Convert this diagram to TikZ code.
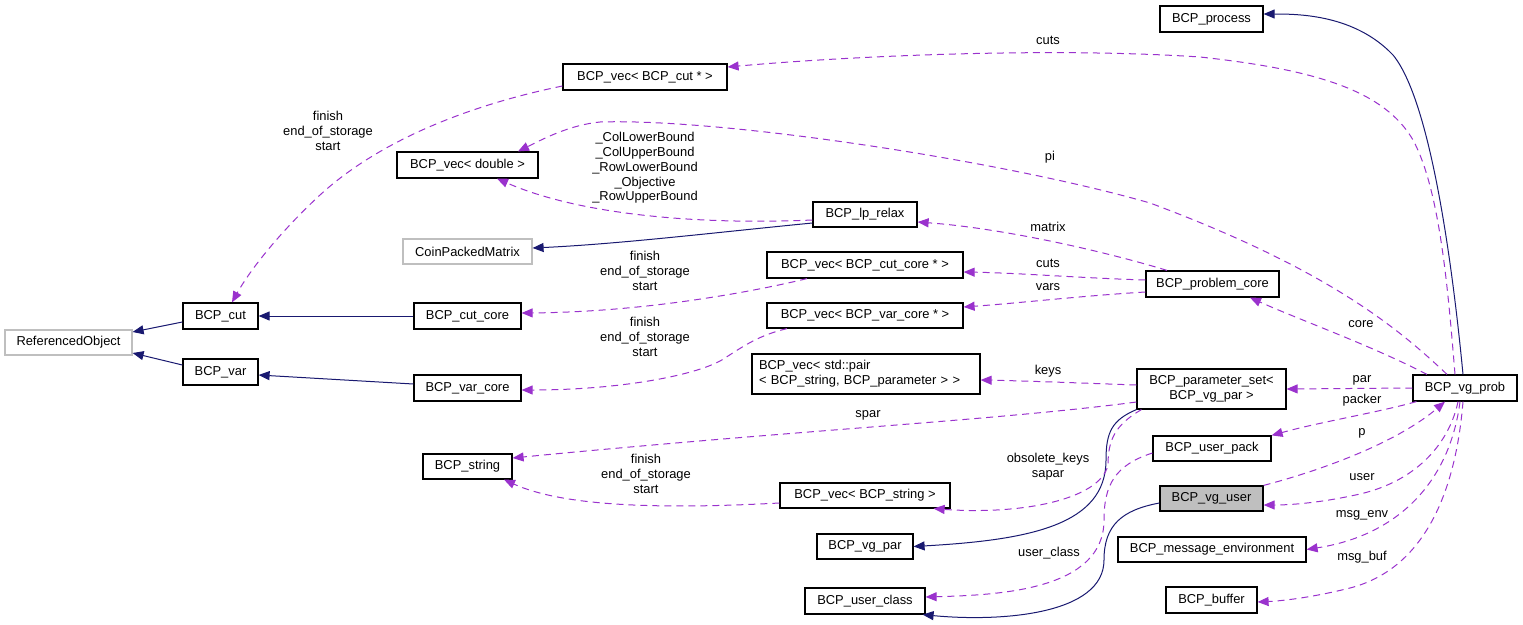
\documentclass[tikz,border=0pt]{standalone}
\usepackage{fontspec}
\setmainfont{Liberation Sans}
\usetikzlibrary{arrows.meta}
\definecolor{edgeblue}{HTML}{191970}
\definecolor{edgepurple}{HTML}{9A32CD}
\definecolor{boxgray}{HTML}{BFBFBF}
\newcommand\dfont{\fontsize{12.9}{14.7}\selectfont}
\begin{document}
\begin{tikzpicture}[x=1pt,y=-1pt,
  box/.style={draw=black, line width=1.2pt, minimum height=26pt, inner sep=0pt, font=\dfont, fill=white},
  gbox/.style={box, draw=boxgray},
  lbl/.style={font=\dfont, inner sep=0pt, align=center},
  inh/.style={draw=edgeblue, line width=1pt, -{Triangle[length=11pt,width=9pt]}},
  dep/.style={draw=edgepurple, line width=1pt, dash pattern=on 7pt off 5pt, -{Triangle[length=11pt,width=9pt]}}]
\useasboundingbox (0,0) rectangle (1523,624);

% nodes
\node[gbox, minimum width=127pt, minimum height=25pt] (RO) at (68.5,342.5) {ReferencedObject};
\node[box, minimum width=75pt] (cut) at (220.5,316) {BCP\_cut};
\node[box, minimum width=75pt] (var) at (220.5,372) {BCP\_var};
\node[box, minimum width=141pt] (vecdouble) at (467.5,165) {BCP\_vec< double >};
\node[gbox, minimum width=129pt, minimum height=25pt] (coin) at (467.5,251.5) {CoinPackedMatrix};
\node[box, minimum width=107pt] (cutcore) at (467.5,316) {BCP\_cut\_core};
\node[box, minimum width=107pt] (varcore) at (467.5,388) {BCP\_var\_core};
\node[box, minimum width=164pt] (veccut) at (645,77) {BCP\_vec< BCP\_cut * >};
\node[box, minimum width=104pt, minimum height=25pt] (lprelax) at (865,214.5) {BCP\_lp\_relax};
\node[box, minimum width=196pt] (veccutcore) at (865,265) {BCP\_vec< BCP\_cut\_core * >};
\node[box, minimum width=196pt, minimum height=25pt] (vecvarcore) at (865,315.5) {BCP\_vec< BCP\_var\_core * >};
\node[box, minimum width=228pt, minimum height=40pt, align=left, text width=214pt] (vecpair) at (866,374) {BCP\_vec< std::pair\\< BCP\_string, BCP\_parameter > >};
\node[box, minimum width=89pt, minimum height=25pt] (string) at (467.5,466.5) {BCP\_string};
\node[box, minimum width=170pt, minimum height=25pt] (vecstring) at (865,495.5) {BCP\_vec< BCP\_string >};
\node[box, minimum width=96pt, minimum height=25pt] (vgpar) at (865,546.5) {BCP\_vg\_par};
\node[box, minimum width=120pt] (userclass) at (865,601) {BCP\_user\_class};
\node[box, minimum width=133pt] (probcore) at (1212.5,284) {BCP\_problem\_core};
\node[box, minimum width=149pt, minimum height=40pt, align=center] (paramset) at (1211.5,389) {BCP\_parameter\_set<\\BCP\_vg\_par >};
\node[box, minimum width=104pt] (vgprob) at (1465,388) {BCP\_vg\_prob};
\node[box, minimum width=118pt, minimum height=25pt] (userpack) at (1212,448.5) {BCP\_user\_pack};
\node[box, minimum width=103pt, minimum height=25pt, fill=boxgray] (vguser) at (1211.5,498.5) {BCP\_vg\_user};
\node[box, minimum width=188pt, minimum height=25pt] (msgenv) at (1212,549.5) {BCP\_message\_environment};
\node[box, minimum width=91pt] (buffer) at (1211.5,600) {BCP\_buffer};
\node[box, minimum width=103pt] (process) at (1211.5,19) {BCP\_process};

% solid (inheritance) edges
\draw[inh] ([yshift=-6pt]cut.west) -- ([yshift=10.5pt]RO.east);
\draw[inh] ([yshift=7pt]var.west) -- ([yshift=-10.5pt]RO.east);
\draw[inh] (cutcore.west) -- (cut.east);
\draw[inh] ([yshift=4pt]varcore.west) -- ([yshift=-3pt]var.east);
\draw[inh] ([yshift=-8.5pt]lprelax.west) .. controls (720,232) and (620,244) .. ([yshift=3.5pt]coin.east);
\draw[inh] ([xshift=-2pt]vgprob.north) .. controls (1452,260) and (1430,100) .. (1393,55) .. controls (1355,15) and (1300,14) .. ([yshift=5pt]process.east);
\draw[inh] (paramset.south west) .. controls (1112,420) and (1106,432) .. (1106,460) .. controls (1106,525) and (1030,540) .. (vgpar.east);
\draw[inh] ([yshift=-4.5pt]vguser.west) .. controls (1122,510) and (1104,525) .. (1104,560) .. controls (1104,615) and (1000,622) .. ([xshift=-3pt]userclass.south east);

% dashed (usage) edges
\draw[dep] ([xshift=-10pt]vgprob.north) .. controls (1448,290) and (1440,190) .. (1413,140) .. controls (1385,92) and (1320,70) .. (1200,57) .. controls (1050,47) and (850,56) .. ([yshift=10pt]veccut.east);
\node[lbl] (lcuts1) at (1048,40) {cuts};

\draw[dep] ([yshift=-9pt]veccut.west) .. controls (470,105) and (380,140) .. (320,195) .. controls (280,232) and (250,270) .. ([xshift=11.5pt]cut.north);
\node[lbl] (lfin1) at (328,131) {finish\\end\_of\_storage\\start};

\draw[dep] ([xshift=-18pt]vgprob.north) .. controls (1400,330) and (1330,270) .. (1150,203) .. controls (1000,160) and (720,118) .. (600,122) .. controls (570,125) and (545,138) .. ([xshift=50.5pt]vecdouble.north);
\node[lbl] (lpi) at (1050,157) {pi};

\draw[dep] ([yshift=-5.5pt]lprelax.west) .. controls (700,225) and (580,215) .. ([xshift=29.5pt]vecdouble.south);
\node[lbl] (lbounds) at (645,168) {\_ColLowerBound\\\_ColUpperBound\\\_RowLowerBound\\\_Objective\\\_RowUpperBound};

\draw[dep] ([xshift=-45.5pt]probcore.north) .. controls (1100,250) and (1000,228) .. ([yshift=-7.5pt]lprelax.east);
\node[lbl] (lmatrix) at (1048,227) {matrix};

\draw[dep] ([yshift=4pt]probcore.west) .. controls (1080,278) and (1020,273) .. ([yshift=-7pt]veccutcore.east);
\node[lbl] (lcuts2) at (1048,263) {cuts};

\draw[dep] ([yshift=-8pt]probcore.west) .. controls (1080,296) and (1020,303) .. ([yshift=8.5pt]vecvarcore.east);
\node[lbl] (lvars) at (1048,287) {vars};

\draw[dep] ([xshift=-58pt]veccutcore.south) .. controls (760,290) and (650,312) .. ([yshift=3pt]cutcore.east);
\node[lbl] (lfin2) at (645,271) {finish\\end\_of\_storage\\start};

\draw[dep] ([xshift=-78pt]vecvarcore.south) .. controls (760,335) and (745,345) .. (725,358) .. controls (700,375) and (620,390) .. ([yshift=-2pt]varcore.east);
\node[lbl] (lfin3) at (645,337) {finish\\end\_of\_storage\\start};

\draw[dep] ([xshift=-38pt]vgprob.north) .. controls (1370,345) and (1300,320) .. ([xshift=37.5pt]probcore.south);
\node[lbl] (lcore) at (1361,324) {core};

\draw[dep] ([yshift=4pt]paramset.west) .. controls (1080,383) and (1030,381) .. ([yshift=-6pt]vecpair.east);
\node[lbl] (lkeys) at (1048,371) {keys};

\draw[dep] ([yshift=-13pt]paramset.west) .. controls (1000,420) and (800,430) .. ([yshift=8.5pt]string.east);
\node[lbl] (lspar) at (868,415) {spar};

\draw[dep] ([xshift=5pt]paramset.south west) .. controls (1115,425) and (1108,440) .. (1108,465) .. controls (1100,500) and (1020,515) .. ([xshift=-17pt]vecstring.south east);
\node[lbl] (lobs) at (1048,467) {obsolete\_keys\\sapar};

\draw[dep] ([yshift=-7.5pt]vecstring.west) .. controls (650,510) and (560,505) .. ([xshift=36.5pt]string.south);
\node[lbl] (lfin4) at (646,474) {finish\\end\_of\_storage\\start};

\draw[dep] (vgprob.west) -- (paramset.east);
\node[lbl] (lpar) at (1362,380) {par};

\draw[dep] ([xshift=4pt]vgprob.south west) .. controls (1380,412) and (1320,422) .. (userpack.north east);
\node[lbl] (lpacker) at (1362,400) {packer};

\draw[dep] (vguser.north east) .. controls (1330,468) and (1400,440) .. ([xshift=-20pt]vgprob.south);
\node[lbl] (lp) at (1362,433) {p};

\draw[dep] ([xshift=-7pt]vgprob.south) .. controls (1450,440) and (1420,480) .. (1360,494) .. controls (1320,503) and (1290,505) .. ([yshift=-6.5pt]vguser.east);
\node[lbl] (luser) at (1362,477) {user};

\draw[dep] ([xshift=-5pt]vgprob.south) .. controls (1450,480) and (1400,535) .. (msgenv.east);
\node[lbl] (lmsgenv) at (1362,515) {msg\_env};

\draw[dep] ([xshift=-2pt]vgprob.south) .. controls (1455,500) and (1420,570) .. (1350,588) .. controls (1310,598) and (1280,601) .. ([yshift=-2pt]buffer.east);
\node[lbl] (lmsgbuf) at (1362,557) {msg\_buf};

\draw[dep] ([yshift=-4.5pt]userpack.west) .. controls (1115,465) and (1104,485) .. (1104,520) .. controls (1104,590) and (1000,595) .. ([yshift=4pt]userclass.east);
\node[lbl] (luserclass) at (1049,553) {user\_class};
\end{tikzpicture}
\end{document}
